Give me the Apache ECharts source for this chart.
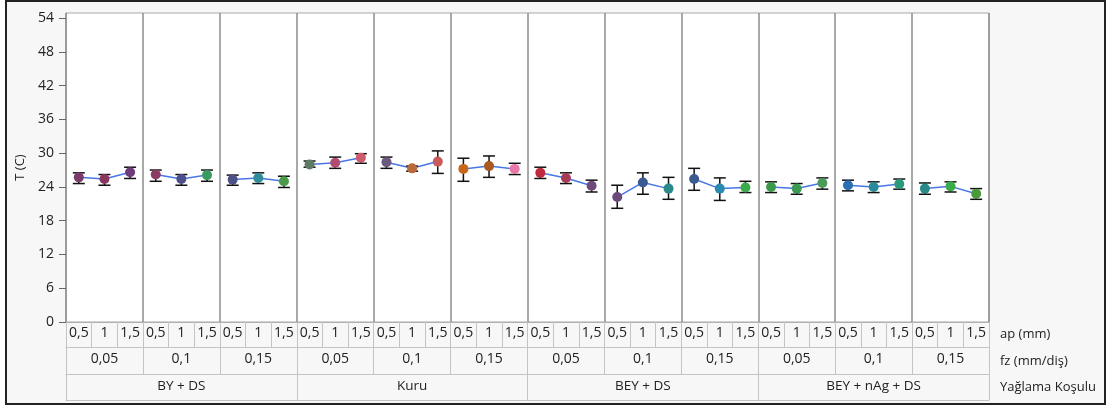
<!DOCTYPE html>
<html>
<head>
<meta charset="utf-8">
<script src="https://cdn.jsdelivr.net/npm/echarts@6/dist/echarts.min.js"></script>
<style>
  html, body { margin: 0; padding: 0; background: #fff; }
  #wrap { position: relative; width: 1109px; height: 407px; }
  #frame {
    position: absolute; left: 5px; top: 0; width: 1101px; height: 405px;
    border: 2px solid #222; background: #f7f7f7; box-sizing: border-box;
  }
  #chart { position: absolute; left: 0; top: 0; width: 1109px; height: 407px; }
</style>
</head>
<body>
<div id="wrap">
  <div id="frame"></div>
  <div id="chart"></div>
</div>
<script>
// factor levels (outer -> inner)
const lubrication = ['BY + DS', 'Kuru', 'BEY + DS', 'BEY + nAg + DS'];
const feedRates = ['0,05', '0,1', '0,15'];
const depths = ['0,5', '1', '1,5'];

// T (C) per cell, same order as the table under the plot
const tMean = [
  25.7, 25.4, 26.6, 26.2, 25.4, 26.1, 25.3, 25.6, 25.0,
  28.0, 28.3, 29.2, 28.4, 27.3, 28.5, 27.2, 27.7, 27.2,
  26.5, 25.6, 24.2, 22.2, 24.8, 23.7, 25.4, 23.7, 23.9,
  24.0, 23.7, 24.7, 24.3, 24.0, 24.5, 23.7, 24.1, 22.8
];
const tHigh = [
  26.5, 26.2, 27.5, 27.0, 26.2, 27.0, 26.1, 26.5, 25.9,
  28.6, 29.3, 29.9, 29.3, 27.7, 30.4, 29.1, 29.5, 28.2,
  27.5, 26.5, 25.2, 24.3, 26.5, 25.7, 27.3, 25.6, 25.0,
  24.9, 24.6, 25.6, 25.2, 24.9, 25.4, 24.7, 24.9, 23.7
];
const tLow = [
  24.6, 24.3, 25.5, 25.0, 24.3, 25.0, 24.3, 24.6, 23.9,
  27.5, 27.3, 28.2, 27.3, 26.8, 26.4, 25.0, 25.7, 26.2,
  25.5, 24.6, 23.1, 20.2, 22.7, 21.8, 23.4, 21.6, 23.0,
  23.0, 22.7, 23.6, 23.3, 23.0, 23.6, 22.7, 23.1, 21.8
];

const yTicks = [0, 6, 12, 18, 24, 30, 36, 42, 48, 54];

// marker colours as in the picture
const pointColors = [
  '#7a3a6a', '#8a3560', '#6e3a78', '#8b3a62', '#4e4f8a', '#3a9a60', '#4e5088', '#2f8c9a', '#4a9a48',
  '#5e7a62', '#b34a70', '#cc5a6a', '#6a5a80', '#b86a3a', '#c85a5a', '#c8661a', '#a85a20', '#e878a8',
  '#c02a40', '#a83a58', '#6e4a7a', '#6a4a7a', '#3a5a90', '#2a8a8a', '#3a5a90', '#2a8ab0', '#3aaa4a',
  '#3a9a4a', '#3a9a50', '#4a9a58', '#2a70b0', '#2a8a9a', '#2a9a7a', '#2a8a8a', '#3aaa4a', '#4a9a3a'
];

const apCats = [];
const fzCats = [];
lubrication.forEach(() => {
  feedRates.forEach(fz => {
    fzCats.push(fz);
    depths.forEach(ap => apCats.push(ap));
  });
});

const font = '"Open Sans", sans-serif';
const txt = { fontFamily: font, color: '#222' };
const cellLine = { color: '#c4c4c4', width: 1 };

// one blue line for each fz group
const lineSeries = fzCats.map((_, g) => ({
  type: 'line',
  symbol: 'none',
  data: tMean.map((v, i) => (Math.floor(i / 3) === g ? v : '-')),
  lineStyle: { color: '#4876e6', width: 1.5 },
  z: 2
}));

const myChart = echarts.init(document.getElementById('chart'));
myChart.setOption({
  animation: false,
  grid: {
    left: 66, right: 120, top: 13, bottom: 85,
    show: true, backgroundColor: '#fff', borderColor: '#a8a8a8', borderWidth: 1
  },
  xAxis: [
    {
      type: 'category', data: apCats, position: 'bottom',
      axisLine: { show: true, lineStyle: { color: '#b0b0b0' } },
      axisTick: { show: true, length: 25, interval: 0, lineStyle: cellLine },
      axisLabel: Object.assign({ interval: 0, margin: 4, fontSize: 14 }, txt),
      splitLine: { show: false }
    },
    {
      type: 'category', data: fzCats, position: 'bottom', offset: 25,
      axisLine: { show: true, lineStyle: cellLine },
      axisTick: { show: true, length: 27, interval: 0, lineStyle: cellLine },
      axisLabel: Object.assign({ interval: 0, margin: 5, fontSize: 14 }, txt),
      splitLine: { show: true, lineStyle: { color: '#8c8c8c', width: 1.5 } }
    },
    {
      type: 'category', data: lubrication, position: 'bottom', offset: 52,
      axisLine: { show: true, lineStyle: cellLine },
      axisTick: { show: true, length: 26, interval: 0, lineStyle: cellLine },
      axisLabel: Object.assign({ interval: 0, margin: 5, fontSize: 13.5 }, txt),
      splitLine: { show: false }
    },
    {
      type: 'category', data: lubrication, position: 'bottom', offset: 78,
      axisLine: { show: true, lineStyle: cellLine },
      axisTick: { show: false },
      axisLabel: { show: false },
      splitLine: { show: false }
    }
  ],
  yAxis: {
    type: 'value', min: 0, max: 54.9, interval: 6,
    name: 'T (C)', nameLocation: 'middle', nameGap: 37,
    nameTextStyle: { fontFamily: font, fontSize: 13, color: '#222' },
    axisLine: { show: true, lineStyle: { color: '#999' } },
    axisTick: { show: true, length: 7, customValues: yTicks, lineStyle: { color: '#666' } },
    axisLabel: Object.assign({ customValues: yTicks, margin: 12, fontSize: 14 }, txt),
    splitLine: { show: false }
  },
  graphic: [
    { type: 'text', x: 1000, y: 334, style: { text: 'ap (mm)', font: '13px ' + font, fill: '#222', verticalAlign: 'middle' } },
    { type: 'text', x: 1000, y: 361, style: { text: 'fz (mm/diş)', font: '13px ' + font, fill: '#222', verticalAlign: 'middle' } },
    { type: 'text', x: 1000, y: 387, style: { text: 'Yağlama Koşulu', font: '13px ' + font, fill: '#222', verticalAlign: 'middle' } }
  ],
  series: lineSeries.concat([
    {
      // error bars
      type: 'custom',
      data: tMean.map((_, i) => [i, tLow[i], tHigh[i]]),
      encode: { x: 0, y: [1, 2] },
      z: 3,
      renderItem(params, api) {
        const lo = api.coord([api.value(0), api.value(1)]);
        const hi = api.coord([api.value(0), api.value(2)]);
        const w = 6;
        const style = { stroke: '#111', lineWidth: 1.5 };
        return {
          type: 'group',
          children: [
            { type: 'line', shape: { x1: lo[0], y1: lo[1], x2: hi[0], y2: hi[1] }, style },
            { type: 'line', shape: { x1: lo[0] - w, y1: lo[1], x2: lo[0] + w, y2: lo[1] }, style },
            { type: 'line', shape: { x1: hi[0] - w, y1: hi[1], x2: hi[0] + w, y2: hi[1] }, style }
          ]
        };
      }
    },
    {
      type: 'scatter',
      data: tMean.map((v, i) => [i, v]),
      symbolSize: 10,
      itemStyle: { color: p => pointColors[p.dataIndex], opacity: 1 },
      z: 4
    }
  ])
});
</script>
</body>
</html>
